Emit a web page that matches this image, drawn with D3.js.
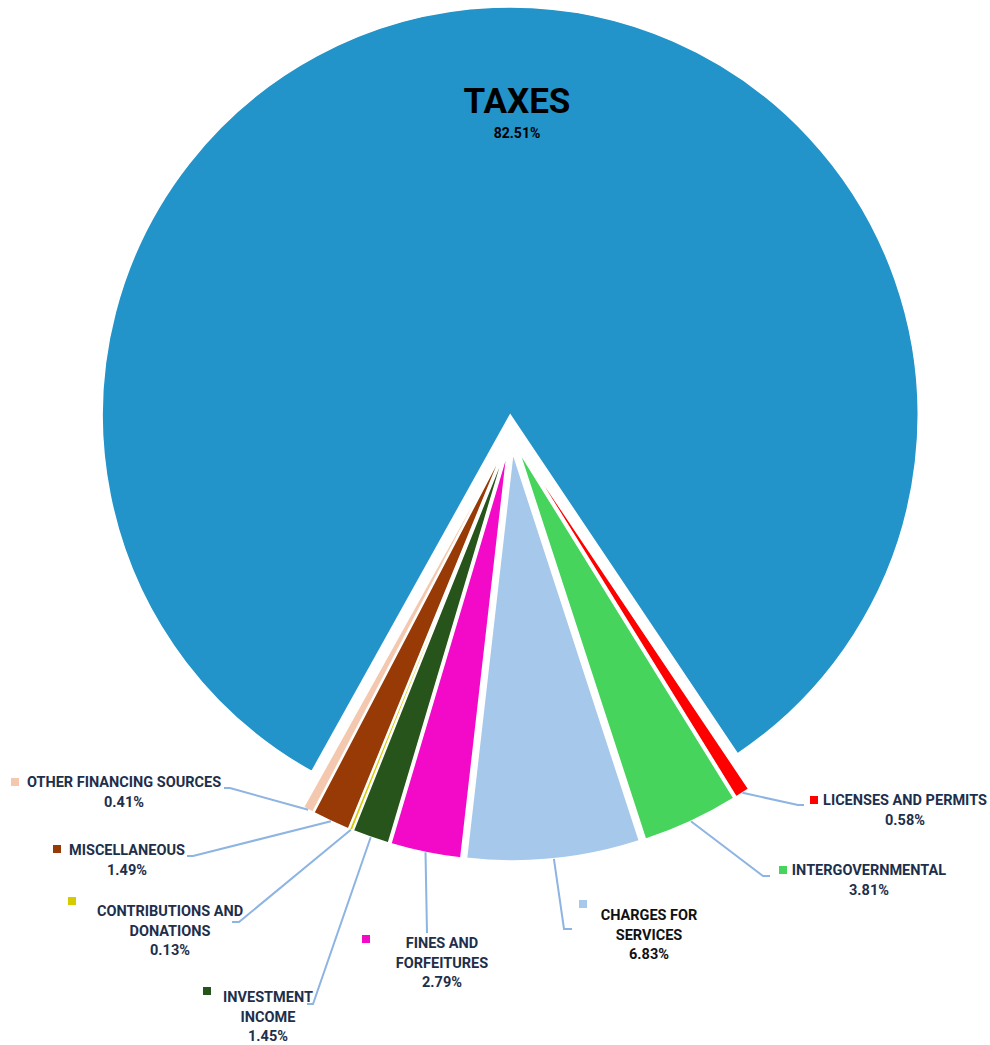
<!DOCTYPE html>
<html>
<head>
<meta charset="utf-8">
<script src="https://cdn.jsdelivr.net/npm/d3@7"></script>
<style>
  body { margin: 0; background: #fff; }
  text { font-family: "Roboto", "Liberation Sans", sans-serif; font-weight: bold; }
</style>
</head>
<body>
<div id="chart"></div>
<script>
const WIDTH = 990, HEIGHT = 1045;
const CENTER = { X: 511, Y: 434 };
const RADIUS = 408;
const EXPLODE = 19;
const START_DEG = -150.9;

// data
const categories = ["TAXES", "LICENSES AND PERMITS", "INTERGOVERNMENTAL", "CHARGES FOR SERVICES",
  "FINES AND FORFEITURES", "INVESTMENT INCOME", "CONTRIBUTIONS AND DONATIONS",
  "MISCELLANEOUS", "OTHER FINANCING SOURCES"];
const shares = [82.51, 0.58, 3.81, 6.83, 2.79, 1.45, 0.13, 1.49, 0.41];
const colors = ["#2394ca", "#ff0000", "#47d45d", "#a6c8ea", "#f20ac8", "#27541a", "#d4cc00", "#983a05", "#f4c8ae"];

// label layout: text lines, text centre, swatch, leader elbow/end
const labelLines = [
  ["TAXES"], ["LICENSES AND PERMITS"], ["INTERGOVERNMENTAL"], ["CHARGES FOR", "SERVICES"],
  ["FINES AND", "FORFEITURES"], ["INVESTMENT", "INCOME"], ["CONTRIBUTIONS AND", "DONATIONS"],
  ["MISCELLANEOUS"], ["OTHER FINANCING SOURCES"]
];
const labelPos = [
  null,
  { cx: 905, y: 800, sq: [814, 800], elbow: [798, 805], end: [804, 805] },
  { cx: 869, y: 870, sq: [783, 870], elbow: [763, 876], end: [770, 876] },
  { cx: 649, y: 915, sq: [583, 904], elbow: [564, 929], end: [572, 929], dark: true },
  { cx: 442, y: 943, sq: [366, 939], elbow: [427, 933], end: [427, 933] },
  { cx: 268, y: 997, sq: [207, 991], elbow: [313, 1004], end: [307, 1004] },
  { cx: 170, y: 911, sq: [72, 901], elbow: [239, 922], end: [232, 922] },
  { cx: 127, y: 850, sq: [57, 849], elbow: [193, 856], end: [187, 856] },
  { cx: 124, y: 782, sq: [15, 782], elbow: [230, 788], end: [224, 788] }
];

const data = categories.map((c, i) => ({ name: c, value: shares[i], color: colors[i], lines: labelLines[i], pos: labelPos[i] }));

const svg = d3.select("#chart").append("svg")
  .attr("width", WIDTH).attr("height", HEIGHT);

const g = svg.append("g").attr("transform", `translate(${CENTER.X}, ${CENTER.Y})`);

const pie = d3.pie().value(d => d.value).sort(null)
  .startAngle(START_DEG * Math.PI / 180)
  .endAngle(START_DEG * Math.PI / 180 + 2 * Math.PI);
const arcs = pie(data);
const arc = d3.arc().innerRadius(0).outerRadius(RADIUS);

const mid = d => (d.startAngle + d.endAngle) / 2;
const offset = (d, r) => [Math.sin(mid(d)) * r, -Math.cos(mid(d)) * r];

g.selectAll("path.slice")
  .data(arcs)
  .join("path")
    .attr("class", "slice")
    .attr("d", arc)
    .attr("fill", d => d.data.color)
    .attr("stroke", "#fff")
    .attr("stroke-width", 1.5)
    .attr("transform", d => `translate(${offset(d, EXPLODE)})`);

// leader lines
const small = arcs.filter(d => d.data.pos);
svg.selectAll("polyline.leader")
  .data(small)
  .join("polyline")
    .attr("class", "leader")
    .attr("fill", "none")
    .attr("stroke", "#8db4e2")
    .attr("stroke-width", 2)
    .attr("points", d => {
      const o = offset(d, EXPLODE);
      const p = offset(d, RADIUS);
      const s = [CENTER.X + o[0] + p[0], CENTER.Y + o[1] + p[1]];
      return [s, d.data.pos.elbow, d.data.pos.end].map(q => q.join(",")).join(" ");
    });

// swatches
svg.selectAll("rect.swatch")
  .data(small)
  .join("rect")
    .attr("class", "swatch")
    .attr("x", d => d.data.pos.sq[0] - 4)
    .attr("y", d => d.data.pos.sq[1] - 4)
    .attr("width", 8).attr("height", 8)
    .attr("fill", d => d.data.color);

// text labels
const labels = svg.selectAll("g.label")
  .data(small)
  .join("g")
    .attr("class", "label")
    .attr("fill", d => d.data.pos.dark ? "#111" : "#1e2f4b")
    .attr("text-anchor", "middle");

labels.each(function(d) {
  const el = d3.select(this);
  const lines = d.data.lines.concat([d.data.value.toFixed(2) + "%"]);
  lines.forEach((t, i) => {
    el.append("text")
      .attr("x", d.data.pos.cx)
      .attr("y", d.data.pos.y + i * 19.5)
      .attr("dy", "0.35em")
      .attr("font-size", 14.5)
      .text(t);
  });
});

// taxes label
const taxes = svg.append("g").attr("text-anchor", "middle").attr("fill", "#000");
taxes.append("text").attr("x", 517).attr("y", 113).attr("font-size", 35).text(data[0].name);
taxes.append("text").attr("x", 517).attr("y", 138).attr("font-size", 14).text(data[0].value.toFixed(2) + "%");
</script>
</body>
</html>
